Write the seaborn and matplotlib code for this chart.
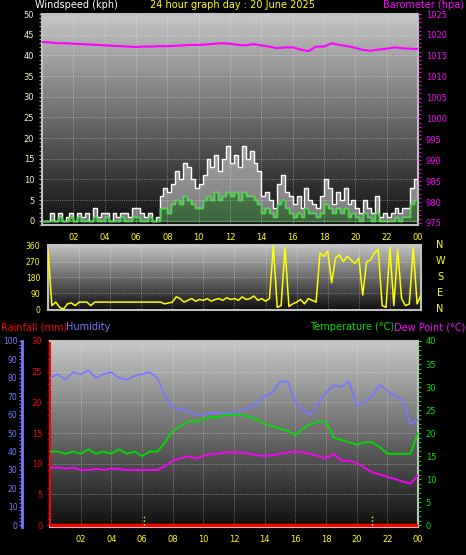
import numpy as np
import matplotlib
matplotlib.use("Agg")
import matplotlib.pyplot as plt
import seaborn as sns
from matplotlib.ticker import MultipleLocator

sns.set_style("dark")
plt.rcParams['font.family'] = ['DejaVu Sans']

# ---- data ----
t_wind = np.arange(97) * 0.25   # 15 min steps
t_half = np.arange(49) * 0.5    # 30 min steps

gust = [0,0,2,0,2,0,1,2, 0,2,1,2,0,3,1,2, 2,0,2,1,2,2,1,3, 3,2,1,2,0,1,6,8,
        7,9,12,10,14,13,10,8, 9,11,15,13,16,12,15,18, 14,16,13,18,15,17,14,12,
        6,7,5,3,9,11,7,6, 4,6,3,8,5,4,3,6, 10,8,4,7,5,8,4,5,
        3,2,5,3,2,6,1,2, 1,2,3,2,3,3,8,10, 6]
avg_wind = [0,0,0,0,1,0,0,1, 0,1,0,0,0,1,0,0, 1,0,0,0,1,0,0,1, 1,0,0,1,0,0,3,3,
            2,4,5,4,6,5,4,3, 3,5,6,5,7,5,6,7, 6,7,5,7,6,6,5,4,
            2,3,2,1,4,5,3,2, 1,2,1,3,2,2,1,2, 4,3,2,3,2,3,1,2,
            1,0,2,1,0,2,0,0, 0,0,1,0,1,1,4,5, 3]
direction = [340,20,40,10,0,30,35,20, 40,40,40,20,40,40,40,40, 40,40,40,40,40,40,40,40,
             40,40,40,40,40,40,30,35, 40,70,60,40,50,60,45,55, 50,60,45,55,60,50,65,55,
             60,50,70,55,60,75,50,60, 45,60,360,10,20,350,15,30, 40,55,30,60,50,40,320,300,
             330,150,290,310,270,300,280,260, 290,80,270,280,320,340,20,10,
             350,20,340,60,20,30,350,30, 80]
pressure = [1018.3,1018.2,1018.0,1018.0,1017.9,1017.8,1017.7,1017.6,1017.5,1017.4,
            1017.3,1017.2,1017.1,1017.2,1017.2,1017.3,1017.3,1017.4,1017.5,1017.6,
            1017.6,1017.7,1017.9,1018.0,1017.9,1017.6,1017.5,1017.8,1017.5,1017.2,
            1016.8,1017.0,1017.0,1016.5,1016.1,1017.2,1017.2,1018.0,1017.6,1017.3,
            1016.9,1016.4,1016.2,1016.5,1016.7,1017.0,1016.8,1016.7,1016.6]
humidity = [80,82,79,83,82,84,80,82,83,80,79,81,82,83,80,
            70,64,63,62,60,60,61,61,61,61,62,64,66,70,72,78,78,67,62,60,
            66,72,76,75,78,65,67,70,76,73,70,68,55,57]
temperature = [16,16,15.5,16,15.5,16.5,15.5,16,15.5,16.5,15.5,16,15,16,16,
               18,20.5,21.5,22.5,22.5,23,23.5,23.5,24,24,24,23.5,23,22,21.5,21,20.5,19.5,21,22,
               22.5,22.5,19,18.5,18,17.5,18,18,17,15.5,15.5,15.5,15.5,20]
dewpoint = [12.5,12.5,12.3,12.5,12,12,12.2,12,12.3,12.2,12,12,12,12,12,
            12.8,14,14.5,15,14.5,15,15.5,15.5,15.8,15.8,15.8,15.5,15.2,15,15.2,15.5,15.8,16,15.8,15.5,
            15,14.5,15.5,14,14,13.5,12.5,11.5,11,10.5,10,9.5,9,10.8]
rainfall = [0] * 49
hour_ticks = [2,4,6,8,10,12,14,16,18,20,22,24]
hour_labels = ["02","04","06","08","10","12","14","16","18","20","22","00"]

YEL = "#ffff00"
MAG = "#ff00ff"
BLUE = "#7878ff"
GRN = "#00e000"
RED = "#ff0000"
PALE = "#f0f0c8"
FS = 6

fig = plt.figure(figsize=(4.66, 5.55), dpi=100, facecolor="black")
grad = np.linspace(0.78, 0.06, 200).reshape(-1, 1)


def style(ax, ylo, yhi):
    ax.imshow(grad, cmap="gray", vmin=0, vmax=1, aspect="auto",
              extent=[0, 1, 0, 1], transform=ax.transAxes, zorder=0)
    ax.set_xlim(0, 24)
    ax.set_ylim(ylo, yhi)
    ax.set_facecolor("black")
    for s in ax.spines.values():
        s.set_color("#c0c0c0")
        s.set_linewidth(1.5)
    ax.grid(True, color="white", linestyle=":", linewidth=0.6, alpha=0.5)
    ax.set_xticks(hour_ticks)
    ax.set_xticklabels(hour_labels, color=YEL, fontsize=FS)
    ax.tick_params(axis="x", colors=YEL, length=2, labelsize=FS)


# ---- top: wind + barometer ----
ax1 = fig.add_axes([42/466, 1-225/555, 376/466, 211/555])
style(ax1, -1, 50)
ax1.set_yticks(range(0, 51, 5))
ax1.yaxis.set_minor_locator(MultipleLocator(1))
ax1.tick_params(axis="y", which="both", colors="#c0c0c0", labelcolor=PALE, labelsize=FS, length=2)
ax1.fill_between(t_wind, avg_wind, gust, step="post", color="white", alpha=0.45, zorder=2)
sns.lineplot(x=t_wind, y=gust, drawstyle="steps-post", color="white", lw=0.9, ax=ax1, zorder=3)
ax1.fill_between(t_wind, 0, avg_wind, step="post", color="#90ff90", alpha=0.35, zorder=3)
sns.lineplot(x=t_wind, y=avg_wind, drawstyle="steps-post", color="#40e040", lw=0.9, ax=ax1, zorder=4)
ax1b = ax1.twinx()
ax1b.set_ylim(974.5, 1025)
ax1b.set_yticks(range(975, 1026, 5))
ax1b.yaxis.set_minor_locator(MultipleLocator(1))
ax1b.tick_params(axis="y", which="both", colors=MAG, labelsize=FS, length=2)
for s in ax1b.spines.values():
    s.set_visible(False)
sns.lineplot(x=t_half, y=pressure, color=MAG, lw=1.5, ax=ax1b)
fig.text(35/466, 1-5/555, "Windspeed (kph)", color="white", fontsize=7, va="center")
fig.text(0.5, 1-5/555, "24 hour graph day : 20 June 2025", color=YEL, fontsize=7, va="center", ha="center")
fig.text(464/466, 1-5/555, "Barometer (hpa)", color=MAG, fontsize=7, va="center", ha="right")

# ---- middle: wind direction ----
ax2 = fig.add_axes([48/466, 1-310/555, 373/466, 65/555])
style(ax2, -5, 365)
ax2.set_xticklabels([])
ax2.tick_params(axis="x", length=0)
ax2.set_yticks([0, 90, 180, 270, 360])
ax2.yaxis.set_minor_locator(MultipleLocator(15))
ax2.tick_params(axis="y", which="both", colors=YEL, labelsize=5.5, length=2)
sns.lineplot(x=t_wind, y=direction, color=YEL, lw=1.1, ax=ax2, zorder=3)
for i, ch in enumerate("NWSEN"):
    fig.text(440/466, 1-(245 + i*16)/555, ch, color=YEL, fontsize=7, ha="center", va="center")

# ---- bottom: rain / humidity / temperature / dewpoint ----
ax3 = fig.add_axes([50/466, 1-527/555, 368/466, 186/555])
style(ax3, -0.3, 30)
ax3.set_yticks(range(0, 31, 5))
ax3.yaxis.set_minor_locator(MultipleLocator(1))
ax3.tick_params(axis="y", which="both", colors=RED, labelsize=FS, length=2)
ax3.spines["left"].set_color(RED)
ax3.plot(t_half, rainfall, color=RED, lw=2.5, zorder=5)
for x in [6.1, 21.0]:
    ax3.plot([x, x], [0, 1.6], color=YEL, ls=":", lw=1, zorder=5)

ax3h = ax3.twinx()
ax3h.spines["left"].set_position(("outward", 20))
ax3h.spines["left"].set_visible(True)
ax3h.spines["left"].set_color(BLUE)
ax3h.spines["left"].set_linewidth(2)
ax3h.spines["right"].set_visible(False)
ax3h.spines["top"].set_visible(False)
ax3h.spines["bottom"].set_visible(False)
ax3h.yaxis.set_label_position("left")
ax3h.yaxis.set_ticks_position("left")
ax3h.set_ylim(-1, 100)
ax3h.set_yticks(range(0, 101, 10))
ax3h.yaxis.set_minor_locator(MultipleLocator(2))
ax3h.tick_params(axis="y", which="both", colors=BLUE, labelsize=5.5, length=2, pad=1.5)
sns.lineplot(x=t_half, y=humidity, color=BLUE, lw=1.3, ax=ax3h)

ax3t = ax3.twinx()
for s in ax3t.spines.values():
    s.set_visible(False)
ax3t.set_ylim(-0.4, 40)
ax3t.set_yticks(range(0, 41, 5))
ax3t.yaxis.set_minor_locator(MultipleLocator(1))
ax3t.tick_params(axis="y", which="both", colors=GRN, labelsize=FS, length=2)
sns.lineplot(x=t_half, y=temperature, color=GRN, lw=1.3, ax=ax3t)
sns.lineplot(x=t_half, y=dewpoint, color=MAG, lw=1.3, ax=ax3t)

fig.text(1/466, 1-327/555, "Rainfall (mm)", color=RED, fontsize=7, va="center")
fig.text(66/466, 1-327/555, "Humidity", color=BLUE, fontsize=7, va="center")
fig.text(394/466, 1-327/555, "Temperature (\u00b0C)", color=GRN, fontsize=7, va="center", ha="right")
fig.text(465/466, 1-327/555, "Dew Point (\u00b0C)", color=MAG, fontsize=7, va="center", ha="right")

fig.savefig("out.png", dpi=100, facecolor="black")
